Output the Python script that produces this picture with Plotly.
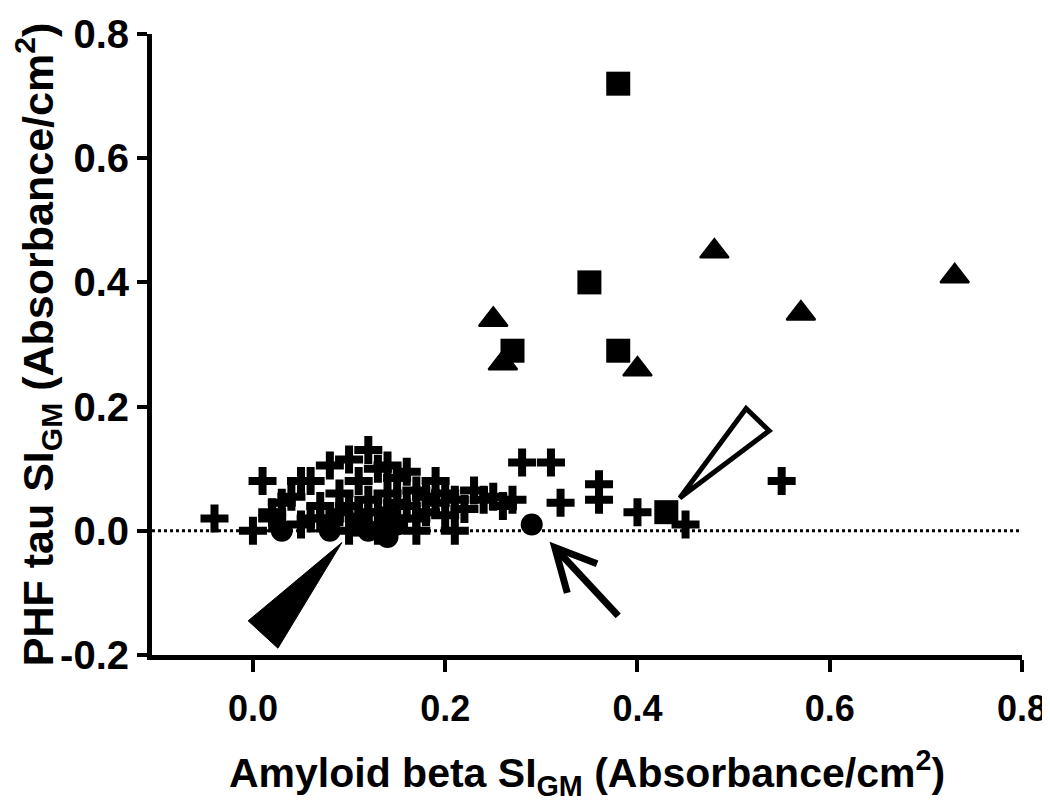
import plotly.graph_objects as go

# ---- data ----
cross_x = [-0.04, 0.00, 0.01, 0.02, 0.03, 0.04, 0.05, 0.06, 0.06, 0.07, 0.08, 0.08, 0.09, 0.09,
           0.10, 0.10, 0.11, 0.11, 0.12, 0.12, 0.13, 0.13, 0.14, 0.14, 0.15, 0.15, 0.16, 0.16,
           0.17, 0.17, 0.18, 0.19, 0.19, 0.20, 0.21, 0.21, 0.22, 0.23, 0.24, 0.25, 0.26, 0.27,
           0.28, 0.31, 0.32, 0.36, 0.36, 0.40, 0.45, 0.55, 0.05, 0.10, 0.13, 0.17, 0.02, 0.07,
           0.12, 0.15, 0.18, 0.20]
cross_y = [0.02, 0.00, 0.08, 0.03, 0.045, 0.055, 0.08, 0.02, 0.08, 0.04, 0.105, 0.02, 0.06, 0.03,
           0.115, 0.04, 0.08, 0.02, 0.13, 0.05, 0.10, 0.03, 0.105, 0.06, 0.085, 0.02, 0.095, 0.04,
           0.065, 0.02, 0.03, 0.08, 0.045, 0.06, 0.05, 0.00, 0.035, 0.065, 0.05, 0.055, 0.04, 0.05,
           0.11, 0.11, 0.045, 0.075, 0.05, 0.03, 0.01, 0.08, 0.01, 0.00, 0.00, 0.00, 0.02, 0.02,
           0.03, 0.045, 0.055, 0.025]

circle_x = [0.03, 0.08, 0.12, 0.14, 0.15, 0.29]
circle_y = [0.00, 0.00, 0.00, -0.01, 0.01, 0.01]

square_x = [0.38, 0.35, 0.27, 0.38, 0.43, 0.11, 0.14]
square_y = [0.72, 0.40, 0.29, 0.29, 0.03, 0.01, 0.02]

triangle_x = [0.25, 0.26, 0.48, 0.40, 0.57, 0.73]
triangle_y = [0.34, 0.27, 0.45, 0.26, 0.35, 0.41]

x_ticks = [0.0, 0.2, 0.4, 0.6, 0.8]
y_ticks = [-0.2, 0.0, 0.2, 0.4, 0.6, 0.8]

# pointer annotations (data coordinates)
filled_wedge = [(0.0925, -0.019), (-0.005, -0.145), (0.026, -0.189)]
open_wedge = [(0.444, 0.053), (0.513, 0.197), (0.537, 0.161)]
arrow_tip = (0.314, -0.027)
arrow_tail = (0.380, -0.137)
arrow_wing1 = (0.358, -0.053)
arrow_wing2 = (0.327, -0.100)

fig = go.Figure()

fig.add_trace(go.Scatter(x=cross_x, y=cross_y, mode="markers",
                         marker=dict(symbol="cross-thin", size=20, color="black",
                                     line=dict(color="black", width=8)),
                         cliponaxis=False, showlegend=False))
fig.add_trace(go.Scatter(x=circle_x, y=circle_y, mode="markers",
                         marker=dict(symbol="circle", size=22, color="black", line=dict(width=0)),
                         cliponaxis=False, showlegend=False))
fig.add_trace(go.Scatter(x=square_x, y=square_y, mode="markers",
                         marker=dict(symbol="square", size=24, color="black", line=dict(width=0)),
                         cliponaxis=False, showlegend=False))
fig.add_trace(go.Scatter(x=triangle_x, y=triangle_y, mode="markers",
                         marker=dict(symbol="triangle-up", size=25, color="black",
                                     line=dict(color="black", width=2)),
                         cliponaxis=False, showlegend=False))


def path(pts, close=True):
    s = "M " + " L ".join(f"{x},{y}" for x, y in pts)
    return s + (" Z" if close else "")


shapes = [
    dict(type="line", xref="x", yref="y", x0=-0.105, x1=0.8, y0=0, y1=0,
         line=dict(color="black", width=3, dash="dot"), layer="below"),
    dict(type="path", xref="x", yref="y", path=path(filled_wedge),
         fillcolor="black", line=dict(color="black", width=1)),
    dict(type="path", xref="x", yref="y", path=path(open_wedge),
         fillcolor="white", line=dict(color="black", width=5)),
    dict(type="path", xref="x", yref="y", path=path([arrow_tail, arrow_tip], close=False),
         line=dict(color="black", width=7)),
    dict(type="path", xref="x", yref="y",
         path=path([arrow_wing1, arrow_tip, arrow_wing2], close=False),
         line=dict(color="black", width=7)),
]

bold_font = "Liberation Sans, Arial, sans-serif"

fig.update_layout(
    width=1042, height=794,
    margin=dict(l=144, r=28, t=26, b=147),
    paper_bgcolor="white", plot_bgcolor="white",
    shapes=shapes,
    xaxis=dict(range=[-0.105, 0.8], tickvals=x_ticks, ticktext=[f"{v:.1f}" for v in x_ticks],
               automargin=False, ticklabeloverflow="allow", ticklabelstandoff=6,
               showgrid=False, zeroline=False, showline=True, linecolor="black", linewidth=5,
               ticks="outside", ticklen=12, tickwidth=4, tickcolor="black",
               tickfont=dict(family=bold_font, size=36, color="black", weight="bold"),
               title=dict(text="Amyloid beta SI<sub>GM</sub> (Absorbance/cm<sup>2</sup>)",
                          font=dict(family=bold_font, size=41, color="black", weight="bold"),
                          standoff=32)),
    yaxis=dict(range=[-0.2, 0.8], tickvals=y_ticks, ticktext=[f"{v:.1f}" for v in y_ticks],
               automargin=False,
               showgrid=False, zeroline=False, showline=True, linecolor="black", linewidth=5,
               ticks="outside", ticklen=10, tickwidth=4, tickcolor="black",
               tickfont=dict(family=bold_font, size=40, color="black", weight="bold"),
               title=dict(text="PHF tau SI<sub>GM</sub> (Absorbance/cm<sup>2</sup>)",
                          font=dict(family=bold_font, size=43, color="black", weight="bold"),
                          standoff=10)),
)

fig.write_html("out.html")
